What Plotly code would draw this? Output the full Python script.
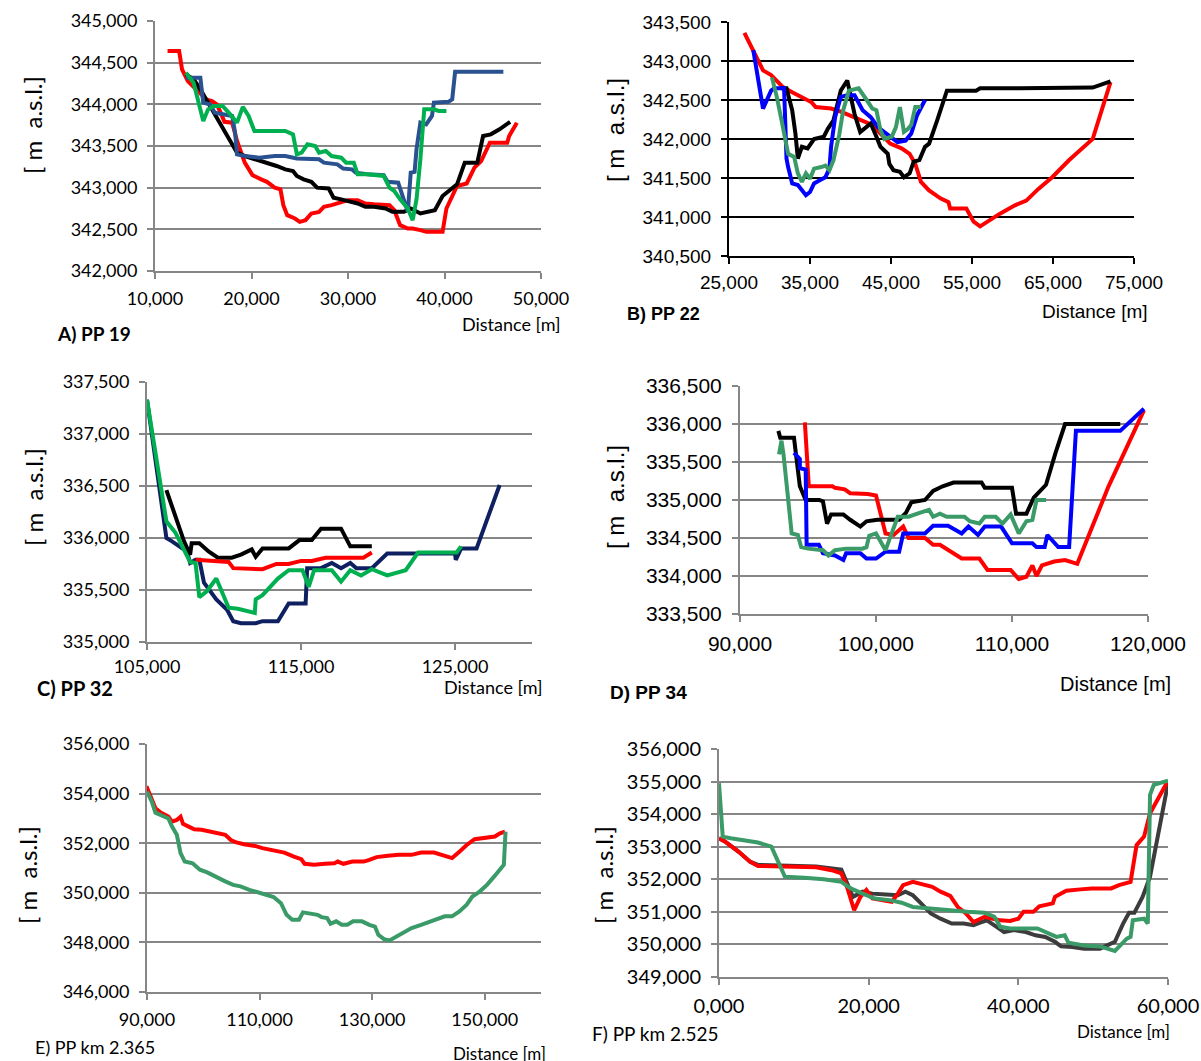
import plotly.graph_objects as go

# ---------------- DATA (distance [m], elevation [m a.s.l.]) ----------------
A_red = [(11.3,344.64),(12.5,344.64),(12.8,344.42),(13.4,344.28),(14.0,344.21),(14.7,344.12),(15.3,344.06),(15.9,344.04),(16.4,344.0),(16.8,343.9),(17.2,343.79),(18.0,343.78),(18.5,343.56),(19.3,343.30),(20.1,343.15),(21.0,343.10),(21.6,343.07),(22.4,343.0),(23.0,342.98),(23.3,342.79),(23.7,342.67),(24.5,342.63),(25.0,342.59),(25.6,342.61),(26.2,342.69),(27.0,342.71),(27.5,342.77),(28.3,342.79),(29.3,342.83),(30.0,342.85),(31.0,342.85),(31.8,342.81),(32.7,342.80),(34.3,342.79),(34.8,342.73),(35.4,342.55),(36.2,342.51),(36.7,342.51),(37.5,342.49),(38.1,342.47),(39.0,342.47),(39.8,342.47),(40.2,342.75),(40.8,342.90),(41.3,343.02),(42.3,343.05),(43.1,343.24),(43.8,343.32),(44.7,343.54),(45.6,343.54),(46.5,343.54),(46.7,343.62),(47.5,343.78)]
A_black = [(13.2,344.36),(14.0,344.30),(14.7,344.18),(15.3,344.06),(16.2,343.88),(17.0,343.72),(18.0,343.50),(18.5,343.42),(19.3,343.38),(20.5,343.34),(21.6,343.30),(22.6,343.26),(23.5,343.22),(24.3,343.20),(24.7,343.14),(25.4,343.10),(26.2,343.07),(26.8,343.0),(28.0,342.99),(28.5,342.88),(29.3,342.86),(30.2,342.84),(31.0,342.81),(31.8,342.77),(32.7,342.77),(33.9,342.75),(34.6,342.71),(35.8,342.71),(36.5,342.75),(37.5,342.69),(38.1,342.71),(39.0,342.73),(39.8,342.90),(40.6,342.98),(41.3,343.04),(42.1,343.30),(43.4,343.30),(44.0,343.62),(44.8,343.64),(45.7,343.70),(46.5,343.76),(46.8,343.79)]
A_blue = [(13.2,344.32),(14.7,344.32),(15.0,344.02),(15.7,344.0),(16.2,343.90),(17.0,343.88),(18.0,343.86),(18.3,343.66),(18.5,343.40),(19.3,343.38),(20.8,343.36),(22.4,343.38),(23.5,343.38),(24.7,343.35),(27.0,343.34),(27.5,343.30),(28.9,343.28),(29.5,343.23),(30.4,343.22),(30.8,343.18),(32.0,343.16),(33.7,343.15),(34.1,343.07),(35.2,343.06),(36.2,342.71),(36.5,343.18),(36.9,343.19),(37.1,343.46),(37.5,343.78),(38.1,343.76),(38.7,343.86),(38.9,344.02),(40.4,344.03),(40.8,344.06),(41.1,344.39),(42.3,344.39),(46.1,344.39)]
A_green = [(13.2,344.38),(14.0,344.26),(15.0,343.80),(15.5,343.94),(16.1,343.98),(17.0,343.98),(17.8,343.88),(18.5,343.78),(19.1,343.97),(19.7,343.86),(20.3,343.68),(22.4,343.68),(23.5,343.68),(24.3,343.64),(24.7,343.40),(25.2,343.42),(25.8,343.52),(26.6,343.50),(27.0,343.42),(27.7,343.44),(28.3,343.38),(29.3,343.36),(29.8,343.30),(30.6,343.30),(31.0,343.16),(32.0,343.16),(33.7,343.14),(34.3,343.0),(34.8,342.96),(35.4,342.86),(36.2,342.75),(36.7,342.61),(37.1,342.86),(37.5,343.34),(37.9,343.94),(38.9,343.94),(39.4,343.92),(40.2,343.92)]

B_red = [(26.9,343.36),(28.0,343.12),(29.2,342.88),(30.2,342.82),(31.6,342.67),(32.8,342.60),(33.8,342.54),(34.5,342.50),(35.2,342.47),(35.7,342.41),(37.6,342.39),(38.8,342.35),(40.5,342.28),(42.0,342.22),(42.7,342.18),(43.7,342.07),(44.9,341.94),(46.3,341.88),(47.3,341.81),(48.0,341.68),(48.7,341.45),(49.7,341.34),(51.1,341.24),(52.1,341.19),(52.3,341.11),(54.3,341.11),(55.2,340.94),(56.0,340.88),(58.4,341.04),(60.3,341.15),(61.7,341.21),(63.2,341.36),(64.9,341.51),(67.0,341.73),(69.9,342.0),(72.1,342.73)]
B_black = [(31.4,342.65),(32.1,342.65),(32.8,342.37),(33.2,342.07),(33.5,341.75),(34.0,341.90),(34.7,341.88),(35.5,342.0),(36.7,342.03),(37.2,342.13),(37.9,342.24),(38.8,342.62),(39.6,342.75),(40.0,342.54),(40.5,342.32),(41.2,342.09),(42.5,342.20),(43.2,342.03),(43.7,341.90),(44.6,341.81),(44.8,341.68),(45.3,341.60),(46.1,341.58),(46.6,341.51),(47.3,341.56),(47.8,341.71),(48.5,341.73),(49.2,341.90),(49.7,341.94),(50.7,342.24),(51.9,342.62),(55.5,342.62),(56.0,342.65),(60.8,342.65),(65.6,342.66),(69.9,342.66),(72.1,342.74)]
B_blue = [(28.0,343.14),(29.2,342.39),(30.2,342.62),(30.6,342.65),(31.8,342.65),(32.1,341.75),(32.3,341.64),(32.8,341.43),(33.5,341.41),(34.0,341.34),(34.5,341.28),(35.0,341.32),(35.5,341.43),(36.2,341.47),(36.9,341.51),(37.4,341.62),(37.6,341.90),(38.1,342.28),(38.8,342.54),(39.6,342.56),(40.5,342.56),(41.5,342.37),(42.5,342.28),(43.4,342.15),(44.4,342.07),(45.1,342.03),(45.8,341.96),(46.8,341.98),(47.5,342.07),(48.2,342.30),(49.2,342.50)]
B_green = [(30.3,342.79),(30.9,342.54),(31.6,342.18),(32.3,341.81),(33.05,341.77),(33.5,341.56),(34.0,341.45),(34.5,341.56),(35.0,341.49),(35.5,341.62),(36.4,341.64),(36.9,341.66),(37.4,341.60),(37.9,341.73),(38.6,342.05),(39.1,342.37),(39.8,342.62),(41.0,342.65),(42.0,342.50),(42.7,342.39),(43.2,342.37),(43.7,342.11),(44.2,342.0),(45.1,342.03),(45.6,342.15),(46.1,342.41),(46.6,342.09),(47.1,342.13),(47.5,342.18),(48.0,342.41),(48.7,342.41)]

C_navy = [(105.0,337.33),(106.26,336.0),(106.6,335.97),(107.1,335.92),(107.6,335.87),(107.8,335.76),(108.15,335.79),(108.4,335.79),(108.7,335.57),(109.5,335.41),(110.2,335.31),(110.6,335.20),(111.1,335.18),(112.06,335.18),(112.5,335.20),(113.5,335.20),(114.2,335.37),(115.3,335.37),(115.4,335.71),(116.3,335.71),(117.0,335.76),(117.6,335.71),(118.2,335.76),(118.6,335.71),(119.6,335.71),(120.6,335.85),(121.5,335.85),(122.7,335.85),(125.0,335.85),(125.05,335.79),(125.4,335.90),(126.4,335.90),(127.9,336.51)]
C_black = [(106.26,336.46),(107.4,335.97),(107.8,335.84),(107.9,335.95),(108.4,335.95),(109.0,335.87),(109.6,335.81),(110.5,335.81),(111.1,335.84),(111.8,335.89),(112.06,335.82),(112.5,335.90),(114.2,335.90),(114.9,335.98),(115.7,335.98),(116.3,336.09),(117.6,336.09),(118.2,335.92),(119.6,335.92)]
C_red = [(108.15,335.79),(110.3,335.77),(110.6,335.71),(111.6,335.70),(112.5,335.70),(113.4,335.75),(114.2,335.75),(115.0,335.78),(115.7,335.78),(116.6,335.81),(118.2,335.81),(119.05,335.81),(119.6,335.86)]
C_green = [(105.0,337.33),(106.26,336.16),(106.85,336.05),(107.8,335.77),(108.15,335.76),(108.4,335.43),(108.9,335.49),(109.5,335.61),(110.3,335.33),(110.9,335.32),(112.0,335.28),(112.06,335.41),(112.5,335.45),(113.5,335.61),(114.2,335.69),(115.1,335.69),(115.5,335.53),(115.85,335.69),(117.0,335.69),(117.6,335.58),(118.2,335.69),(118.9,335.64),(119.6,335.70),(120.6,335.64),(121.8,335.69),(122.6,335.86),(125.1,335.86),(125.4,335.92)]

D_black = [(92.82,335.91),(92.96,335.82),(93.97,335.82),(94.1,335.62),(94.4,335.18),(94.83,335.0),(95.83,335.0),(96.1,334.98),(96.26,334.83),(96.4,334.69),(96.7,334.81),(97.6,334.81),(98.1,334.74),(98.85,334.65),(99.3,334.72),(100.1,334.74),(101.0,334.74),(101.7,334.74),(102.2,334.83),(102.6,334.97),(103.6,335.0),(104.2,335.12),(104.9,335.18),(105.7,335.23),(106.5,335.23),(107.76,335.23),(108.0,335.16),(110.0,335.16),(110.3,334.82),(111.06,334.82),(111.6,335.03),(112.5,335.20),(113.2,335.62),(113.9,336.0),(114.5,336.0),(117.96,336.0)]
D_red = [(94.77,336.02),(95.06,335.18),(96.8,335.18),(96.98,335.16),(97.7,335.14),(98.1,335.09),(99.4,335.08),(100.0,335.06),(100.7,334.56),(101.3,334.54),(102.0,334.65),(102.4,334.50),(103.6,334.50),(104.2,334.41),(104.7,334.41),(105.3,334.34),(106.3,334.23),(106.9,334.23),(107.6,334.23),(108.2,334.08),(109.6,334.08),(109.9,334.08),(110.5,333.96),(111.06,333.99),(111.5,334.14),(111.8,334.0),(112.2,334.14),(113.1,334.19),(113.9,334.21),(114.8,334.16),(117.1,335.18),(119.7,336.18)]
D_blue = [(93.97,335.62),(94.4,335.54),(94.4,335.42),(94.83,335.40),(94.9,334.41),(95.8,334.41),(96.1,334.30),(96.98,334.27),(97.6,334.21),(97.8,334.30),(98.85,334.30),(99.3,334.23),(100.0,334.23),(100.7,334.32),(101.7,334.32),(102.0,334.56),(103.6,334.56),(104.2,334.66),(105.3,334.66),(106.3,334.56),(106.8,334.65),(107.5,334.54),(108.0,334.65),(109.2,334.65),(110.0,334.43),(111.5,334.43),(111.8,334.38),(112.4,334.38),(112.6,334.54),(113.4,334.38),(114.2,334.38),(114.7,335.91),(117.96,335.91),(119.7,336.20)]
D_green = [(92.87,335.60),(93.05,335.78),(93.2,335.60),(93.8,334.56),(94.25,334.54),(94.5,334.38),(95.0,334.36),(96.1,334.34),(96.5,334.27),(96.98,334.34),(97.8,334.36),(98.99,334.36),(99.3,334.38),(99.5,334.53),(100.0,334.56),(100.7,334.34),(101.6,334.78),(102.4,334.78),(103.2,334.83),(103.9,334.87),(104.2,334.78),(104.7,334.82),(105.2,334.78),(106.5,334.78),(106.9,334.72),(107.6,334.69),(108.0,334.78),(108.8,334.78),(109.3,334.69),(109.9,334.81),(110.5,334.56),(111.06,334.72),(111.5,334.74),(111.8,335.0),(112.5,335.0)]

E_red = [(89.9,354.30),(90.5,353.95),(91.5,353.41),(92.5,353.23),(93.8,353.07),(94.45,352.87),(95.3,352.94),(95.96,353.07),(96.4,352.78),(97.4,352.67),(98.4,352.56),(99.7,352.54),(101.3,352.47),(102.6,352.40),(103.9,352.34),(104.9,352.13),(105.9,352.03),(107.2,351.96),(109.2,351.89),(110.5,351.80),(112.5,351.69),(114.4,351.62),(116.1,351.46),(117.4,351.36),(118.0,351.17),(119.7,351.13),(121.6,351.17),(123.3,351.19),(123.9,351.26),(124.9,351.17),(126.5,351.26),(128.5,351.26),(129.5,351.33),(130.8,351.44),(132.8,351.49),(134.7,351.53),(137.0,351.53),(138.7,351.62),(141.0,351.62),(142.3,351.53),(144.2,351.40),(145.5,351.66),(146.8,351.93),(148.2,352.16),(149.8,352.20),(151.8,352.27),(152.7,352.40),(153.6,352.47)]
E_green = [(90.0,354.08),(90.85,353.68),(91.5,353.23),(93.1,353.07),(93.8,353.0),(94.45,352.67),(95.3,352.34),(95.96,351.6),(96.7,351.26),(98.1,351.19),(99.4,350.93),(100.7,350.82),(102.0,350.66),(103.9,350.46),(105.3,350.32),(106.6,350.26),(108.2,350.12),(109.8,350.01),(111.2,349.92),(112.5,349.83),(113.8,349.58),(114.8,349.11),(115.8,348.91),(117.0,348.91),(117.7,349.21),(119.0,349.18),(120.3,349.11),(121.0,349.02),(122.0,348.98),(122.6,348.75),(123.6,348.85),(124.6,348.71),(125.6,348.71),(126.6,348.85),(128.2,348.85),(129.5,348.71),(130.5,348.64),(131.1,348.31),(132.1,348.13),(133.1,348.08),(134.4,348.24),(135.7,348.42),(137.0,348.58),(138.7,348.71),(140.3,348.85),(141.3,348.94),(142.9,349.05),(144.2,349.05),(145.5,349.25),(146.8,349.52),(147.8,349.85),(149.1,350.05),(150.4,350.32),(151.7,350.66),(153.0,351.06),(153.4,351.13),(153.7,352.47)]

F_black = [(0.0,353.26),(0.78,353.16),(2.6,352.85),(4.15,352.54),(5.2,352.44),(8.8,352.41),(12.97,352.39),(16.35,352.30),(17.1,351.87),(17.9,351.46),(19.2,351.62),(20.5,351.56),(22.3,351.53),(23.9,351.51),(24.9,351.62),(25.9,351.51),(27.0,351.26),(28.3,350.95),(29.6,350.79),(31.1,350.64),(32.7,350.64),(34.0,350.59),(34.8,350.66),(35.8,350.74),(37.1,350.54),(38.1,350.38),(39.4,350.44),(41.0,350.38),(42.3,350.28),(43.6,350.23),(44.9,350.08),(45.7,349.94),(47.2,349.92),(48.8,349.87),(50.9,349.87),(52.9,350.08),(54.0,350.64),(54.8,350.97),(55.5,350.97),(56.6,351.46),(57.6,352.08),(58.6,353.31),(60.0,354.95)]
F_red = [(0.0,353.26),(0.78,353.16),(2.6,352.85),(4.15,352.54),(5.2,352.41),(8.8,352.39),(12.97,352.37),(15.05,352.28),(16.35,352.18),(17.1,351.77),(18.06,351.05),(18.9,351.46),(19.7,351.67),(20.5,351.41),(22.3,351.34),(23.1,351.31),(23.9,351.56),(24.6,351.82),(25.9,351.92),(27.2,351.85),(28.5,351.77),(29.6,351.62),(30.9,351.49),(31.9,351.15),(33.0,350.95),(34.0,350.69),(34.8,350.79),(35.5,350.85),(36.6,350.79),(37.6,350.74),(38.9,350.72),(40.0,350.79),(40.7,351.0),(42.0,351.0),(42.8,351.17),(44.6,351.26),(44.9,351.46),(45.7,351.56),(46.4,351.65),(48.3,351.69),(49.8,351.72),(52.4,351.72),(53.45,351.82),(55.0,351.92),(55.8,353.05),(56.8,353.31),(57.6,354.03),(58.6,354.44),(60.0,355.03)]
F_green = [(0.0,354.95),(0.5,353.31),(1.56,353.26),(3.6,353.18),(5.2,353.13),(7.0,353.0),(8.8,352.08),(11.4,352.05),(14.0,352.0),(16.35,351.92),(17.6,351.72),(19.2,351.56),(20.8,351.41),(22.8,351.36),(24.4,351.28),(25.9,351.15),(28.0,351.10),(31.1,351.05),(33.2,351.0),(35.5,350.97),(36.8,350.85),(37.6,350.54),(38.9,350.49),(42.55,350.49),(43.6,350.38),(45.1,350.23),(46.2,350.28),(46.7,350.05),(48.8,349.97),(50.9,349.94),(52.9,349.80),(54.5,350.18),(55.0,350.23),(55.3,350.74),(56.8,350.79),(57.3,350.64),(57.6,354.59),(58.1,354.90),(60.0,355.03)]

# ---------------- STYLE ----------------
W, H = 1201, 1061
CAL = "Lato"
ARI = "Liberation Sans"
GRAY = "#868686"
RED, BLACK = "#FF0000", "#000000"
STEEL, BLUE, NAVY = "#2A5190", "#0000FF", "#0F2060"
GREEN, SEA, DGRAY = "#00B050", "#3A9A68", "#3C3C3C"

fig = go.Figure()

panels = [
    dict(n=1, px=(155, 541), py=(21, 271), xr=[10, 50], xt=[10, 20, 30, 40, 50], yr=[342, 345], dt=0.5, f=CAL, s=18, c=GRAY, xs=4,
         series=[(A_red, RED), (A_black, BLACK), (A_blue, STEEL), (A_green, GREEN)]),
    dict(n=2, px=(729, 1134), py=(22, 256), xr=[25, 75], xt=[25, 35, 45, 55, 65, 75], yr=[340.5, 343.5], dt=0.5, f=ARI, s=19, c=BLACK, xs=2,
         series=[(B_red, RED), (B_black, BLACK), (B_blue, BLUE), (B_green, SEA)]),
    dict(n=3, px=(147, 532), py=(382, 642), xr=[105, 130], xt=[105, 115, 125], yr=[335, 337.5], dt=0.5, f=CAL, s=18, c=GRAY, xs=1,
         series=[(C_navy, NAVY), (C_black, BLACK), (C_red, RED), (C_green, GREEN)]),
    dict(n=4, px=(740, 1148), py=(386, 614), xr=[90, 120], xt=[90, 100, 110, 120], yr=[333.5, 336.5], dt=0.5, f=ARI, s=21, c=GRAY, xs=4,
         series=[(D_red, RED), (D_black, BLACK), (D_blue, BLUE), (D_green, SEA)]),
    dict(n=5, px=(147, 541), py=(744, 992), xr=[90, 160], xt=[90, 110, 130, 150], yr=[346, 356], dt=2, f=CAL, s=18, c=GRAY, xs=4,
         series=[(E_red, RED), (E_green, SEA)]),
    dict(n=6, px=(719, 1168), py=(749, 977), xr=[0, 60], xt=[0, 20, 40, 60], yr=[349, 356], dt=1, f=CAL, s=20, c=GRAY, xs=4,
         series=[(F_black, DGRAY), (F_red, RED), (F_green, SEA)]),
]

for p in panels:
    n = p["n"]
    sfx = "" if n == 1 else str(n)
    for pts, col in p["series"]:
        fig.add_trace(go.Scatter(x=[q[0] for q in pts], y=[q[1] for q in pts], mode="lines",
                                 line=dict(color=col, width=4), xaxis="x" + sfx, yaxis="y" + sfx,
                                 showlegend=False, hoverinfo="skip"))
    font = dict(family=p["f"], size=p["s"], color="#000000")
    xd = [p["px"][0] / W, p["px"][1] / W]
    yd = [1 - p["py"][1] / H, 1 - p["py"][0] / H]
    fig.layout["xaxis" + sfx] = dict(domain=xd, range=p["xr"], tickvals=p["xt"], tickformat=".3f",
                                     showline=True, linecolor=p["c"], linewidth=2, ticks="outside",
                                     ticklen=6, tickwidth=2, tickcolor=p["c"], showgrid=False, zeroline=False,
                                     tickfont=font, anchor="y" + sfx, fixedrange=True, ticklabelstandoff=p["xs"],
                                     automargin=False)
    fig.layout["yaxis" + sfx] = dict(domain=yd, range=p["yr"], dtick=p["dt"], tick0=p["yr"][0], tickformat=".3f",
                                     showline=True, linecolor=p["c"], linewidth=2, ticks="outside",
                                     ticklen=6, tickwidth=2, tickcolor=p["c"], showgrid=True, gridcolor=p["c"],
                                     gridwidth=2, zeroline=False, tickfont=font, anchor="x" + sfx,
                                     fixedrange=True, ticklabelstandoff=6, automargin=False)

ann = []
def add(text, px, py, size, fam, xa="center", ya="middle", angle=0):
    ann.append(dict(text=text, x=px / W, y=1 - py / H, xref="paper", yref="paper", xanchor=xa, yanchor=ya,
                    showarrow=False, textangle=angle, font=dict(family=fam, size=size, color="#000000")))

YT = "[\u00a0m\u00a0\u00a0a.s.l.]"
for px, py, fam in [(33, 125, CAL), (615, 130, ARI), (33, 497, CAL), (615, 497, ARI), (27, 875, CAL), (603, 875, CAL)]:
    add(YT, px, py, 24, fam, angle=-90)

add("Distance [m]", 511, 324, 18, CAL)
add("Distance [m]", 1095, 312, 19, ARI)
add("Distance [m]", 493, 687, 18, CAL)
add("Distance [m]", 1115, 684, 20, ARI)
add("Distance [m]", 500, 1053, 17, CAL)
add("Distance [m]", 1123, 1031, 17, CAL)

add("<b>A) PP 19</b>", 55, 334, 19, CAL, xa="left")
add("<b>B) PP 22</b>", 625, 314, 18, ARI, xa="left")
add("<b>C) PP 32</b>", 35, 688, 20, CAL, xa="left")
add("<b>D) PP 34</b>", 608, 692, 19, ARI, xa="left")
add("E) PP km 2.365", 33, 1047, 18, CAL, xa="left")
add("F) PP km 2.525", 590, 1033, 19, CAL, xa="left")

fig.update_layout(width=W, height=H, margin=dict(l=0, r=0, t=0, b=0, pad=0, autoexpand=False),
                  paper_bgcolor="white", plot_bgcolor="white", showlegend=False, separators=",.",
                  annotations=ann)

fig.write_html("out.html", config={"displayModeBar": False},
               post_script="document.body.style.margin='0';document.body.style.overflow='hidden';")
